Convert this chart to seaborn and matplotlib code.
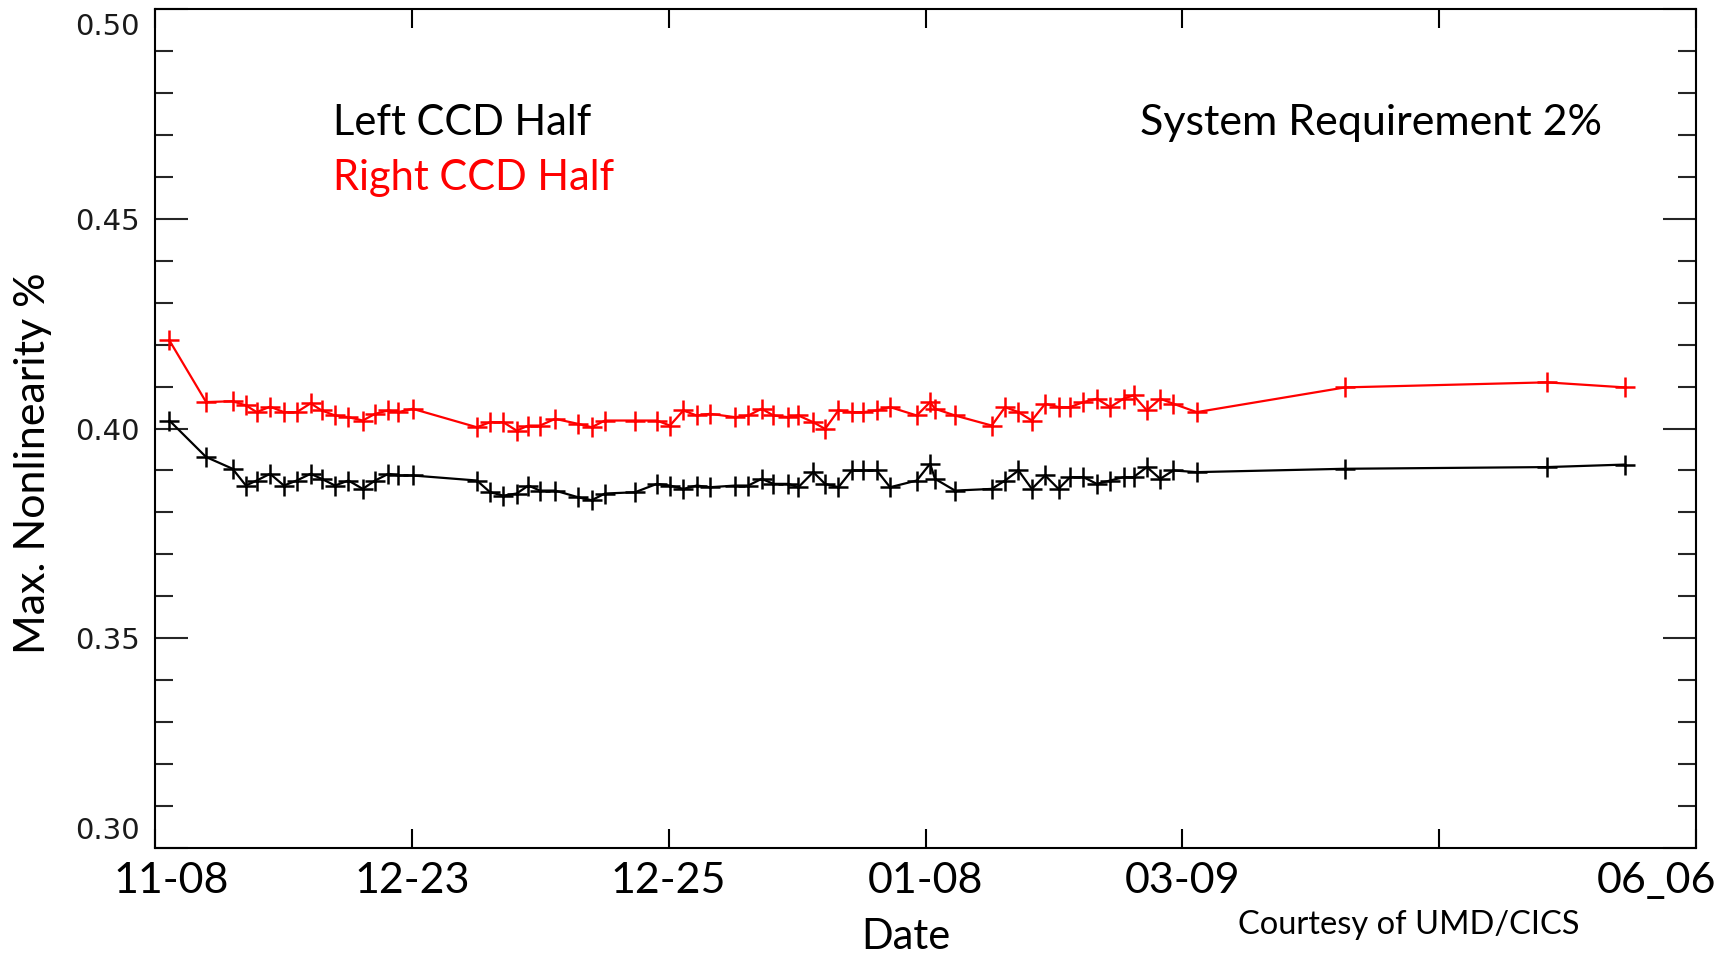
import matplotlib
matplotlib.use("Agg")
import matplotlib.pyplot as plt
from matplotlib.ticker import MultipleLocator, FixedLocator, FormatStrFormatter
from matplotlib.transforms import ScaledTranslation
import seaborn as sns

# Observation dates, placed on an index scale between the labelled ticks
date_pos = [
    0.056, 0.199, 0.302, 0.354, 0.396, 0.448, 0.502, 0.552, 0.606, 0.649,
    0.701, 0.753, 0.809, 0.857, 0.909, 0.947, 1.003,
    1.253, 1.305, 1.356, 1.408, 1.454, 1.499, 1.558,
    1.648, 1.700, 1.752, 1.869, 1.954, 2.005, 2.057, 2.109, 2.161, 2.259,
    2.310, 2.362, 2.408, 2.466, 2.505, 2.563, 2.609, 2.661, 2.713, 2.758,
    2.810, 2.862, 2.966, 3.018, 3.037, 3.115,
    3.258, 3.310, 3.362, 3.414, 3.466, 3.518, 3.563, 3.615, 3.667, 3.719,
    3.771, 3.810, 3.862, 3.914, 3.965,
    4.056, 4.634, 5.419, 5.722,
]

# Maximum nonlinearity (%) of the right CCD half
right_half = [
    0.4210, 0.4063, 0.4065, 0.4055, 0.4039, 0.4052, 0.4039, 0.4039, 0.4060, 0.4043,
    0.4031, 0.4027, 0.4019, 0.4035, 0.4043, 0.4039, 0.4047,
    0.4003, 0.4015, 0.4015, 0.3995, 0.4007, 0.4007, 0.4023,
    0.4011, 0.4003, 0.4019, 0.4019, 0.4019, 0.4007, 0.4043, 0.4031, 0.4035, 0.4027,
    0.4031, 0.4047, 0.4031, 0.4027, 0.4031, 0.4015, 0.3999, 0.4043, 0.4039, 0.4039,
    0.4043, 0.4051, 0.4031, 0.4063, 0.4047, 0.4031,
    0.4007, 0.4051, 0.4039, 0.4019, 0.4059, 0.4051, 0.4051, 0.4063, 0.4071, 0.4051,
    0.4071, 0.4079, 0.4043, 0.4071, 0.4059,
    0.4039, 0.4098, 0.4110, 0.4098,
]

# Maximum nonlinearity (%) of the left CCD half
left_half = [
    0.4019, 0.3932, 0.3904, 0.3864, 0.3876, 0.3892, 0.3864, 0.3876, 0.3892, 0.3880,
    0.3864, 0.3876, 0.3856, 0.3876, 0.3892, 0.3888, 0.3888,
    0.3876, 0.3848, 0.3840, 0.3845, 0.3864, 0.3852, 0.3852,
    0.3836, 0.3829, 0.3845, 0.3848, 0.3868, 0.3864, 0.3856, 0.3864, 0.3860, 0.3864,
    0.3864, 0.3880, 0.3868, 0.3868, 0.3860, 0.3896, 0.3868, 0.3860, 0.3900, 0.3900,
    0.3900, 0.3860, 0.3876, 0.3916, 0.3880, 0.3852,
    0.3856, 0.3876, 0.3900, 0.3856, 0.3888, 0.3856, 0.3884, 0.3884, 0.3868, 0.3876,
    0.3884, 0.3884, 0.3908, 0.3880, 0.3900,
    0.3896, 0.3904, 0.3908, 0.3914,
]

date_ticks = [0, 1, 2, 3, 4, 5, 6]
date_labels = ["11-08", "12-23", "12-25", "01-08", "03-09", "", "06_06"]
value_ticks = [0.30, 0.35, 0.40, 0.45, 0.50]

sns.set_style("white")
plt.rcParams["font.family"] = ["Lato", "DejaVu Sans"]

W, H = 1727, 956
fig = plt.figure(figsize=(W / 100, H / 100), dpi=100)
ax = fig.add_axes([155 / W, 1 - 848 / H, (1696 - 155) / W, (848 - 9) / H])


def fx(px):
    return px / W


def fy(py):
    return 1 - py / H


line_kw = dict(marker="+", markersize=15, markeredgewidth=1.8, linewidth=1.6)
sns.lineplot(x=date_pos, y=left_half, color="black", markeredgecolor="black",
             ax=ax, **line_kw)
sns.lineplot(x=date_pos, y=right_half, color="red", markeredgecolor="red",
             ax=ax, **line_kw)

ax.set_xlim(0, 6)
ax.set_ylim(0.30, 0.50)

for side in ["left", "right", "top", "bottom"]:
    ax.spines[side].set_visible(True)
    ax.spines[side].set_color("black")
    ax.spines[side].set_linewidth(1.5)

ax.xaxis.set_major_locator(FixedLocator(date_ticks))
ax.set_xticklabels(date_labels)
ax.yaxis.set_major_locator(FixedLocator(value_ticks))
ax.yaxis.set_minor_locator(MultipleLocator(0.01))
ax.yaxis.set_major_formatter(FormatStrFormatter("%.2f"))

ax.tick_params(axis="x", which="major", direction="in", length=14, width=1.5,
               top=True, bottom=True, labelsize=31, pad=10, colors="black")
ax.tick_params(axis="y", which="major", direction="in", length=24, width=1.5,
               left=True, right=True, pad=11, labelsize=21, labelcolor="#1a1a1a")
ax.tick_params(axis="y", which="minor", direction="in", length=13, width=1.5,
               left=True, right=True)

fig.canvas.draw()
for lab in ax.get_yticklabels():
    lab.set_fontfamily("DejaVu Sans")
    # end labels sit inside the frame
    if lab.get_text() == "0.30":
        lab.set_va("bottom")
        lab.set_transform(lab.get_transform()
                          + ScaledTranslation(0, 3 / 100, fig.dpi_scale_trans))
    elif lab.get_text() == "0.50":
        lab.set_va("top")
        lab.set_transform(lab.get_transform()
                          + ScaledTranslation(0, -4 / 100, fig.dpi_scale_trans))

xlabels = ax.get_xticklabels()
xlabels[0].set_transform(xlabels[0].get_transform()
                         + ScaledTranslation(16 / 100, 0, fig.dpi_scale_trans))
xlabels[-1].set_transform(xlabels[-1].get_transform()
                          + ScaledTranslation(-39 / 100, 0, fig.dpi_scale_trans))

ax.set_xlabel("")
ax.set_ylabel("")

fig.text(fx(33), fy(463), "Max. Nonlinearity %", rotation=90, ha="center",
         va="center", fontsize=31, color="black")
fig.text(fx(906), fy(949), "Date", ha="center", va="baseline", fontsize=30,
         color="black")
fig.text(fx(1238), fy(934), "Courtesy of UMD/CICS", ha="left", va="baseline",
         fontsize=23.5, color="black")

fig.text(fx(333), fy(135), "Left CCD Half", ha="left", va="baseline",
         fontsize=30, color="black")
fig.text(fx(333), fy(190), "Right CCD Half", ha="left", va="baseline",
         fontsize=30, color="red")
fig.text(fx(1140), fy(135), "System Requirement 2%", ha="left", va="baseline",
         fontsize=31, color="black")

fig.savefig("out.png", dpi=100)
